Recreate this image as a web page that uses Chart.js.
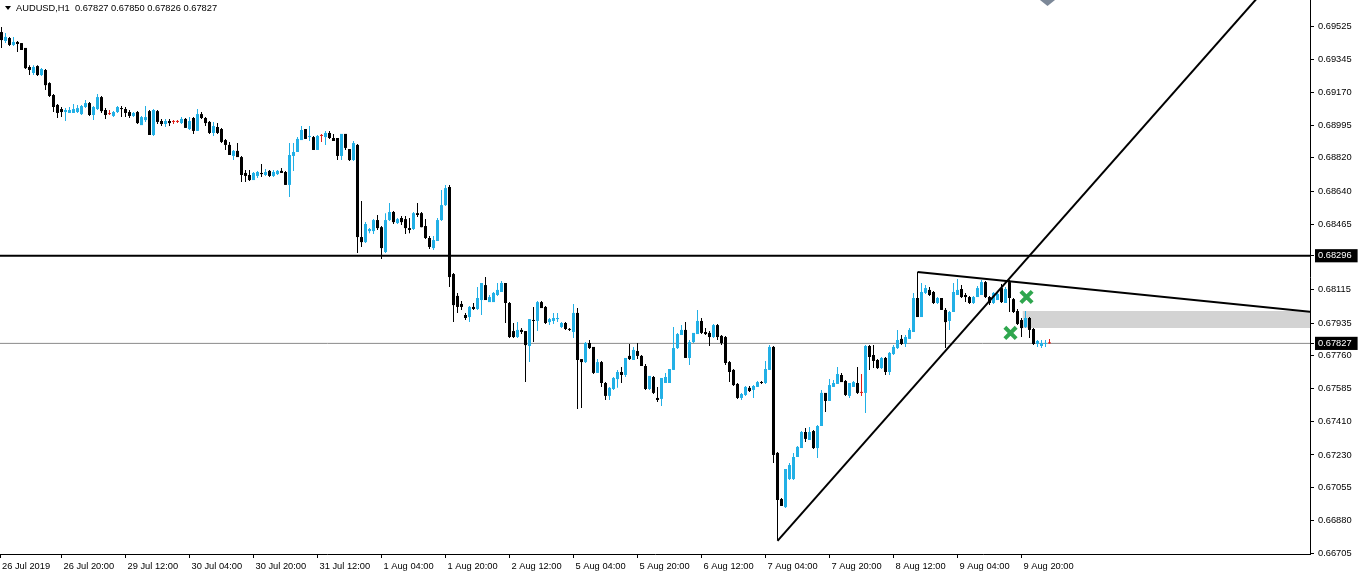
<!DOCTYPE html>
<html>
<head>
<meta charset="utf-8">
<script src="https://cdn.jsdelivr.net/npm/chart.js@4.4.1/dist/chart.umd.min.js"></script>
<style>
html, body { margin: 0; padding: 0; background: #fff; overflow: hidden; }
canvas { display: block; }
</style>
</head>
<body>
<canvas id="priceChart" width="1358" height="577"></canvas>
<script>
// AUDUSD H1 candles (one entry per hourly bar)

const symbol = 'AUDUSD,H1';

const opens = [
    0.69493,0.69445,0.69461,0.69424,0.69440,0.69434,0.69408,0.69306,0.69274,0.69311,
    0.69263,0.69290,0.69220,0.69156,0.69103,0.69081,0.69065,0.69060,0.69060,0.69065,
    0.69054,0.69092,0.69113,0.69049,0.69081,0.69145,0.69076,0.69054,0.69044,0.69065,
    0.69086,0.69081,0.69065,0.69044,0.69065,0.68995,0.69022,0.69070,0.68942,0.69070,
    0.69017,0.69001,0.69017,0.69012,0.69012,0.69006,0.69028,0.68974,0.69033,0.68964,
    0.69054,0.69033,0.69012,0.68953,0.68985,0.68974,0.68915,0.68889,0.68830,0.68857,
    0.68824,0.68739,0.68728,0.68701,0.68723,0.68739,0.68728,0.68750,0.68723,0.68733,
    0.68750,0.68744,0.68675,0.68830,0.68851,0.68915,0.68974,0.68931,0.68931,0.68862,
    0.68937,0.68931,0.68953,0.68926,0.68926,0.68830,0.68948,0.68867,0.68808,0.68889,
    0.68396,0.68369,0.68428,0.68428,0.68487,0.68449,0.68316,0.68487,0.68530,0.68471,
    0.68498,0.68492,0.68444,0.68439,0.68524,0.68524,0.68455,0.68391,0.68337,0.68375,
    0.68487,0.68567,0.68664,0.68198,0.68081,0.68038,0.67979,0.67968,0.68022,0.68011,
    0.68059,0.68139,0.68048,0.68048,0.68086,0.68102,0.68150,0.68043,0.67893,0.67861,
    0.67899,0.67893,0.67813,0.67952,0.67947,0.68048,0.68022,0.67941,0.67947,0.67957,
    0.67915,0.67936,0.67904,0.67888,0.67990,0.67743,0.67727,0.67829,0.67808,0.67669,
    0.67727,0.67615,0.67546,0.67583,0.67636,0.67674,0.67658,0.67760,0.67738,0.67786,
    0.67760,0.67706,0.67583,0.67647,0.67535,0.67530,0.67615,0.67615,0.67685,0.67802,
    0.67872,0.67899,0.67749,0.67834,0.67877,0.67947,0.67888,0.67883,0.67861,0.67925,
    0.67867,0.67861,0.67727,0.67685,0.67610,0.67535,0.67551,0.67589,0.67578,0.67594,
    0.67620,0.67615,0.67685,0.67808,0.67241,0.66994,0.66951,0.67101,0.67101,0.67219,
    0.67267,0.67353,0.67310,0.67358,0.67267,0.67385,0.67562,0.67519,0.67594,0.67610,
    0.67658,0.67626,0.67546,0.67594,0.67615,0.67562,0.67562,0.67813,0.67765,0.67738,
    0.67695,0.67749,0.67674,0.67770,0.67802,0.67851,0.67824,0.67851,0.67888,0.68070,
    0.67968,0.68097,0.68113,0.68102,0.68043,0.68070,0.68006,0.67947,0.67995,0.68086,
    0.68118,0.68086,0.68075,0.68043,0.68075,0.68086,0.68155,0.68075,0.68043,0.68059,
    0.68123,0.68043,0.68155,0.68064,0.68000,0.67952,0.67915,0.67963,0.67904,0.67824,
    0.67813,0.67824,0.67827
];

const highs = [
    0.69520,0.69488,0.69467,0.69467,0.69445,0.69434,0.69408,0.69316,0.69316,0.69316,
    0.69300,0.69295,0.69225,0.69161,0.69108,0.69092,0.69086,0.69092,0.69108,0.69103,
    0.69103,0.69129,0.69119,0.69097,0.69161,0.69151,0.69086,0.69076,0.69070,0.69097,
    0.69097,0.69092,0.69076,0.69065,0.69070,0.69044,0.69097,0.69076,0.69081,0.69076,
    0.69028,0.69028,0.69028,0.69022,0.69022,0.69038,0.69033,0.69038,0.69038,0.69081,
    0.69065,0.69038,0.69017,0.69012,0.69006,0.68980,0.68921,0.68905,0.68862,0.68899,
    0.68830,0.68755,0.68755,0.68744,0.68750,0.68787,0.68760,0.68755,0.68755,0.68755,
    0.68766,0.68750,0.68899,0.68899,0.68931,0.68990,0.68974,0.68990,0.68937,0.68942,
    0.68948,0.68964,0.68964,0.68948,0.68926,0.68948,0.68948,0.68867,0.68910,0.68894,
    0.68589,0.68476,0.68444,0.68492,0.68514,0.68455,0.68524,0.68578,0.68535,0.68498,
    0.68508,0.68508,0.68498,0.68530,0.68578,0.68530,0.68492,0.68401,0.68401,0.68498,
    0.68648,0.68675,0.68675,0.68204,0.68097,0.68054,0.67990,0.68027,0.68043,0.68129,
    0.68150,0.68182,0.68086,0.68102,0.68150,0.68161,0.68150,0.68048,0.67936,0.67941,
    0.67909,0.67893,0.67957,0.68022,0.68054,0.68054,0.68027,0.67963,0.67990,0.67990,
    0.67941,0.67941,0.67909,0.68038,0.68016,0.67743,0.67834,0.67845,0.67808,0.67743,
    0.67733,0.67620,0.67594,0.67647,0.67685,0.67701,0.67749,0.67824,0.67808,0.67829,
    0.67765,0.67717,0.67653,0.67653,0.67594,0.67642,0.67669,0.67690,0.67915,0.67883,
    0.67925,0.67941,0.67845,0.67883,0.68006,0.67963,0.67909,0.67893,0.67931,0.67931,
    0.67872,0.67867,0.67733,0.67690,0.67615,0.67562,0.67599,0.67599,0.67604,0.67626,
    0.67626,0.67733,0.67818,0.67813,0.67246,0.67000,0.67155,0.67187,0.67241,0.67278,
    0.67358,0.67374,0.67380,0.67364,0.67390,0.67578,0.67562,0.67636,0.67631,0.67701,
    0.67669,0.67631,0.67615,0.67626,0.67701,0.67663,0.67818,0.67818,0.67818,0.67743,
    0.67754,0.67754,0.67781,0.67818,0.67899,0.67872,0.67872,0.67909,0.68097,0.68209,
    0.68150,0.68139,0.68129,0.68107,0.68075,0.68070,0.68016,0.68000,0.68150,0.68172,
    0.68139,0.68097,0.68081,0.68081,0.68134,0.68166,0.68161,0.68081,0.68102,0.68107,
    0.68145,0.68129,0.68166,0.68070,0.68011,0.67963,0.68000,0.67968,0.67909,0.67845,
    0.67845,0.67845,0.67850
];

const lows = [
    0.69408,0.69434,0.69418,0.69418,0.69386,0.69397,0.69295,0.69263,0.69263,0.69258,
    0.69258,0.69183,0.69145,0.69065,0.69033,0.69038,0.69017,0.69060,0.69060,0.69060,
    0.69049,0.69086,0.69044,0.69022,0.69076,0.69060,0.69028,0.69049,0.69038,0.69060,
    0.69038,0.69038,0.69033,0.69038,0.69001,0.68995,0.69012,0.68942,0.68937,0.69001,
    0.68990,0.68985,0.68990,0.69001,0.69006,0.69001,0.68980,0.68969,0.68948,0.68964,
    0.69028,0.68990,0.68948,0.68937,0.68948,0.68899,0.68862,0.68835,0.68808,0.68824,
    0.68691,0.68691,0.68696,0.68701,0.68712,0.68717,0.68723,0.68717,0.68717,0.68728,
    0.68739,0.68675,0.68610,0.68750,0.68851,0.68915,0.68921,0.68910,0.68862,0.68862,
    0.68905,0.68889,0.68921,0.68910,0.68808,0.68808,0.68862,0.68803,0.68803,0.68311,
    0.68343,0.68364,0.68417,0.68412,0.68434,0.68279,0.68311,0.68482,0.68466,0.68466,
    0.68460,0.68412,0.68417,0.68434,0.68503,0.68449,0.68385,0.68332,0.68327,0.68375,
    0.68482,0.68562,0.68129,0.67941,0.67990,0.68006,0.67952,0.67941,0.68006,0.68006,
    0.67979,0.68059,0.68048,0.68048,0.68081,0.68102,0.67936,0.67856,0.67856,0.67856,
    0.67877,0.67620,0.67727,0.67834,0.67893,0.68016,0.67931,0.67925,0.67931,0.67941,
    0.67909,0.67899,0.67893,0.67856,0.67476,0.67481,0.67722,0.67797,0.67663,0.67669,
    0.67594,0.67524,0.67524,0.67578,0.67589,0.67615,0.67647,0.67738,0.67738,0.67743,
    0.67706,0.67578,0.67578,0.67556,0.67513,0.67492,0.67615,0.67615,0.67685,0.67797,
    0.67872,0.67749,0.67711,0.67829,0.67877,0.67877,0.67872,0.67813,0.67856,0.67845,
    0.67818,0.67711,0.67620,0.67599,0.67530,0.67524,0.67546,0.67567,0.67535,0.67594,
    0.67610,0.67610,0.67685,0.67187,0.66775,0.66957,0.66946,0.67096,0.67096,0.67219,
    0.67267,0.67299,0.67310,0.67262,0.67214,0.67385,0.67460,0.67519,0.67594,0.67610,
    0.67620,0.67546,0.67535,0.67594,0.67556,0.67546,0.67455,0.67685,0.67695,0.67690,
    0.67690,0.67658,0.67658,0.67765,0.67797,0.67818,0.67808,0.67851,0.67888,0.67968,
    0.67968,0.68091,0.68081,0.68038,0.68038,0.68006,0.67802,0.67899,0.67995,0.68086,
    0.68070,0.68048,0.68038,0.68038,0.68075,0.68086,0.68070,0.68032,0.68038,0.68059,
    0.68043,0.68043,0.67995,0.67990,0.67925,0.67861,0.67909,0.67856,0.67818,0.67808,
    0.67802,0.67808,0.67826
];

const closes = [
    0.69450,0.69467,0.69424,0.69440,0.69429,0.69397,0.69300,0.69290,0.69306,0.69263,
    0.69295,0.69209,0.69151,0.69092,0.69060,0.69065,0.69076,0.69076,0.69081,0.69086,
    0.69097,0.69113,0.69049,0.69092,0.69145,0.69070,0.69049,0.69054,0.69065,0.69092,
    0.69081,0.69060,0.69044,0.69060,0.69006,0.69038,0.69038,0.68942,0.69076,0.69012,
    0.69001,0.69017,0.69006,0.69012,0.69012,0.69028,0.68980,0.69017,0.68964,0.69054,
    0.69033,0.69006,0.68953,0.68990,0.68953,0.68905,0.68889,0.68835,0.68857,0.68824,
    0.68728,0.68723,0.68701,0.68739,0.68744,0.68733,0.68744,0.68723,0.68744,0.68750,
    0.68739,0.68675,0.68835,0.68851,0.68921,0.68969,0.68921,0.68937,0.68862,0.68937,
    0.68937,0.68953,0.68926,0.68910,0.68830,0.68948,0.68873,0.68808,0.68899,0.68396,
    0.68369,0.68466,0.68439,0.68487,0.68444,0.68337,0.68487,0.68530,0.68476,0.68492,
    0.68476,0.68444,0.68434,0.68524,0.68514,0.68449,0.68391,0.68343,0.68380,0.68487,
    0.68567,0.68658,0.68182,0.68032,0.68022,0.68022,0.67963,0.68022,0.68011,0.68070,
    0.68150,0.68059,0.68075,0.68097,0.68113,0.68150,0.68043,0.67861,0.67861,0.67899,
    0.67888,0.67818,0.67957,0.67947,0.68048,0.68016,0.67936,0.67957,0.67963,0.67963,
    0.67936,0.67904,0.67899,0.67990,0.67738,0.67727,0.67829,0.67802,0.67669,0.67727,
    0.67615,0.67546,0.67589,0.67642,0.67674,0.67658,0.67749,0.67743,0.67792,0.67760,
    0.67706,0.67583,0.67653,0.67562,0.67524,0.67642,0.67647,0.67690,0.67802,0.67877,
    0.67899,0.67749,0.67834,0.67883,0.67947,0.67883,0.67877,0.67861,0.67925,0.67861,
    0.67829,0.67722,0.67674,0.67604,0.67535,0.67556,0.67594,0.67572,0.67599,0.67620,
    0.67615,0.67690,0.67808,0.67230,0.66989,0.66957,0.67155,0.67176,0.67219,0.67273,
    0.67353,0.67316,0.67353,0.67267,0.67385,0.67562,0.67519,0.67604,0.67615,0.67663,
    0.67620,0.67551,0.67615,0.67620,0.67562,0.67562,0.67813,0.67754,0.67733,0.67695,
    0.67749,0.67674,0.67776,0.67808,0.67845,0.67824,0.67861,0.67899,0.68070,0.67968,
    0.68102,0.68123,0.68086,0.68043,0.68070,0.68006,0.67941,0.67995,0.68102,0.68113,
    0.68075,0.68075,0.68043,0.68075,0.68123,0.68155,0.68075,0.68043,0.68097,0.68091,
    0.68048,0.68118,0.68070,0.67995,0.67931,0.67909,0.67963,0.67899,0.67824,0.67840,
    0.67829,0.67829,0.67827
];

// time axis labels and the bar each one sits on
const timeLabels = ['26 Jul 2019', '26 Jul 20:00', '29 Jul 12:00', '30 Jul 04:00', '30 Jul 20:00',
    '31 Jul 12:00', '1 Aug 04:00', '1 Aug 20:00', '2 Aug 12:00', '5 Aug 04:00', '5 Aug 20:00',
    '6 Aug 12:00', '7 Aug 04:00', '7 Aug 20:00', '8 Aug 12:00', '9 Aug 04:00', '9 Aug 20:00'];
const timeLabelBars = [-1, 15, 31, 47, 63, 79, 95, 111, 127, 143, 159, 175, 191, 207, 223, 239, 255];

const priceTicks = [0.69525, 0.69345, 0.69170, 0.68995, 0.68820, 0.68640, 0.68465, 0.68115,
    0.67935, 0.67760, 0.67585, 0.67410, 0.67230, 0.67055, 0.66880, 0.66705];

// drawn objects
const levelPrice = 0.68296;
const bidPrice = 0.67827;
const trendBars = [194, 315];
const trendPrices = [0.66770, 0.69701];
const wedgeBars = [229, 328];
const wedgePrices = [0.68209, 0.67995];
const zoneBars = [255.25, 328];
const zoneTop = 0.68000;
const zoneBottom = 0.67909;
const crossBars = [256.25, 252.25];
const crossPrices = [0.68075, 0.67883];

const X_MIN = -0.375, X_MAX = 327.125;
const Y_MIN = 0.66700, Y_MAX = 0.696645;

const UP = '#22b0e6', DOWN = '#000000', DOJI = '#e0201a';
const FONT = '"Liberation Sans", Arial, sans-serif';
const FONT_SIZE = 9.3;

function candleColor(i) {
    if (closes[i] > opens[i]) return UP;
    if (closes[i] < opens[i]) return DOWN;
    return DOJI;
}

const bars = closes.map((c, i) => i);

const bodyData = bars.map(i => ({ x: i, y: [Math.min(opens[i], closes[i]), Math.max(opens[i], closes[i])] }));
const wickData = bars.map(i => ({ x: i, y: [lows[i], highs[i]] }));

const isMarker = v => v === levelPrice || v === bidPrice;

// header text and the little shift marker at the top
const overlayPlugin = {
    id: 'overlay',
    afterDraw(chart) {
        const ctx = chart.ctx;
        const last = closes.length - 1;
        ctx.save();
        ctx.fillStyle = '#000';
        ctx.beginPath();
        ctx.moveTo(5, 6);
        ctx.lineTo(11, 6);
        ctx.lineTo(8, 10);
        ctx.closePath();
        ctx.fill();
        ctx.font = FONT_SIZE + 'px ' + FONT;
        ctx.textBaseline = 'middle';
        const f = v => v.toFixed(5);
        ctx.fillText(`${symbol}  ${f(opens[last])} ${f(highs[last])} ${f(lows[last])} ${f(closes[last])}`, 16, 8);

        ctx.fillStyle = '#7c8898';
        ctx.beginPath();
        ctx.moveTo(1040, 0);
        ctx.lineTo(1055, 0);
        ctx.lineTo(1047.5, 6);
        ctx.closePath();
        ctx.fill();
        ctx.restore();
    }
};

const flatLine = (price) => [{ x: X_MIN, y: price }, { x: X_MAX, y: price }];

new Chart(document.getElementById('priceChart'), {
    type: 'bar',
    data: {
        datasets: [
            {
                type: 'line', data: [{ x: zoneBars[0], y: zoneTop }, { x: zoneBars[1], y: zoneTop }],
                borderWidth: 0, pointRadius: 0, fill: '+1', backgroundColor: '#d3d3d3', order: 20
            },
            {
                type: 'line', data: [{ x: zoneBars[0], y: zoneBottom }, { x: zoneBars[1], y: zoneBottom }],
                borderWidth: 0, pointRadius: 0, fill: false, order: 21
            },
            {
                type: 'line', data: flatLine(bidPrice),
                borderColor: '#8a8a8a', borderWidth: 1, pointRadius: 0, order: 15
            },
            {
                data: wickData, backgroundColor: ctx => candleColor(ctx.dataIndex),
                barThickness: 1, grouped: false, inflateAmount: 0, order: 10
            },
            {
                data: bodyData, backgroundColor: ctx => candleColor(ctx.dataIndex),
                barThickness: 3, minBarLength: 1, grouped: false, inflateAmount: 0, order: 9
            },
            {
                type: 'line', data: flatLine(levelPrice),
                borderColor: '#000', borderWidth: 2, pointRadius: 0, order: 5
            },
            {
                type: 'line', data: trendBars.map((b, k) => ({ x: b, y: trendPrices[k] })),
                borderColor: '#000', borderWidth: 2, pointRadius: 0, order: 4
            },
            {
                type: 'line', data: wedgeBars.map((b, k) => ({ x: b, y: wedgePrices[k] })),
                borderColor: '#000', borderWidth: 2, pointRadius: 0, order: 3
            },
            {
                type: 'line', data: crossBars.map((b, k) => ({ x: b, y: crossPrices[k] })),
                showLine: false, pointStyle: 'crossRot', pointRadius: 8, pointBorderWidth: 4,
                pointBorderColor: '#2fa64e', order: 1
            }
        ]
    },
    options: {
        responsive: false,
        animation: false,
        devicePixelRatio: 1,
        layout: { padding: 0, autoPadding: false },
        events: [],
        plugins: { legend: { display: false }, tooltip: { enabled: false } },
        scales: {
            x: {
                type: 'linear',
                position: 'bottom',
                min: X_MIN,
                max: X_MAX,
                offset: false,
                grid: { display: true, offset: false, drawOnChartArea: false, drawTicks: true, tickLength: 4, color: '#000' },
                border: { display: true, color: '#000', width: 1 },
                ticks: {
                    autoSkip: false,
                    maxRotation: 0,
                    align: 'start',
                    labelOffset: 2,
                    padding: 3,
                    color: '#000',
                    font: { family: FONT, size: FONT_SIZE },
                    callback: (v, i) => timeLabels[i]
                },
                afterBuildTicks: axis => {
                    axis.ticks = timeLabelBars.map(b => ({ value: Math.max(b, X_MIN) }));
                },
                afterFit: axis => {
                    axis.height = 23;
                    axis.paddingLeft = 0; axis.paddingRight = 0;
                }
            },
            y: {
                type: 'linear',
                position: 'right',
                min: Y_MIN,
                max: Y_MAX,
                grid: { display: true, drawOnChartArea: false, drawTicks: true, tickLength: 4, color: '#000' },
                border: { display: true, color: '#000', width: 1 },
                ticks: {
                    autoSkip: false,
                    padding: 4,
                    font: { family: FONT, size: FONT_SIZE },
                    color: ctx => isMarker(ctx.tick.value) ? '#fff' : '#000',
                    showLabelBackdrop: ctx => isMarker(ctx.tick.value),
                    backdropColor: '#000',
                    backdropPadding: { top: 1, bottom: 1, left: 3, right: 6 },
                    callback: v => v.toFixed(5)
                },
                afterBuildTicks: axis => {
                    axis.ticks = priceTicks.concat([levelPrice, bidPrice])
                        .sort((a, b) => a - b)
                        .map(v => ({ value: v }));
                },
                afterFit: axis => {
                    axis.width = 48;
                    axis.paddingTop = 0; axis.paddingBottom = 0;
                }
            }
        }
    },
    plugins: [overlayPlugin]
});
</script>
</body>
</html>
